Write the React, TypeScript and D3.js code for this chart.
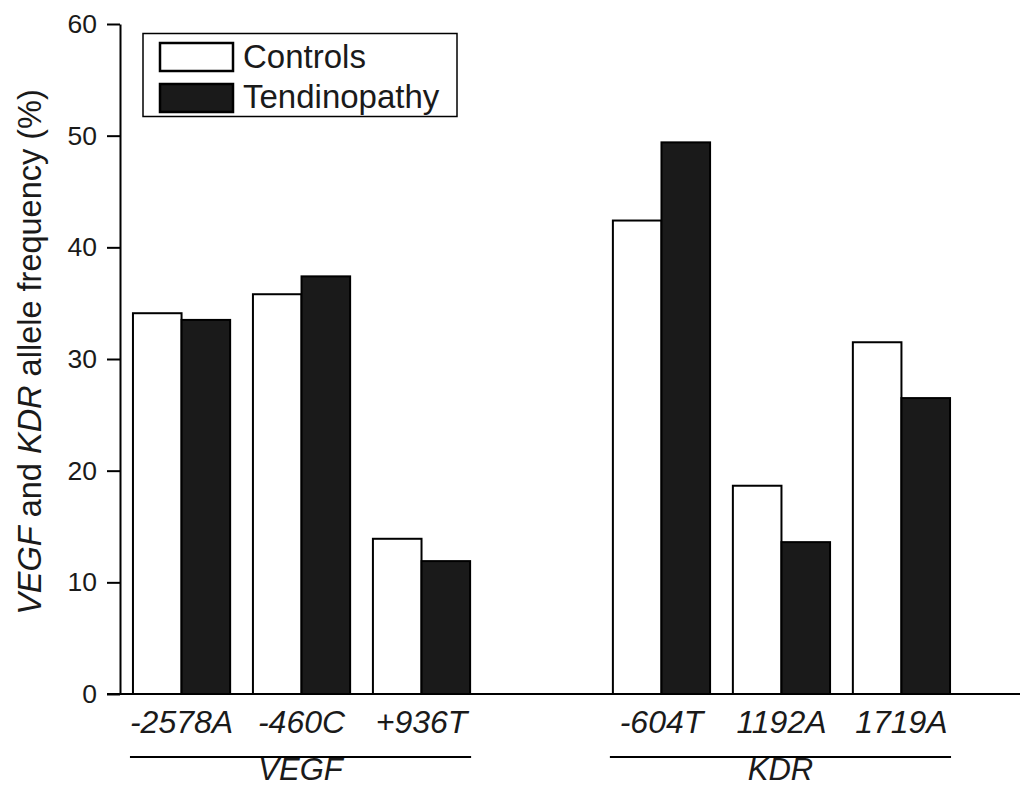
import React, { useRef, useEffect } from 'react';
import * as d3 from 'd3';

// allele labels, the gene each belongs to, and the two series (%)
const categories = ['-2578A', '-460C', '+936T', '-604T', '1192A', '1719A'];
const genes = ['VEGF', 'VEGF', 'VEGF', 'KDR', 'KDR', 'KDR'];
const controls = [34.1, 35.8, 13.9, 42.4, 18.65, 31.5];
const tendinopathy = [33.5, 37.4, 11.9, 49.4, 13.6, 26.5];
const seriesNames = ['Controls', 'Tendinopathy'];
const yTicks = [0, 10, 20, 30, 40, 50, 60];

const FONT = '"Liberation Sans", Arial, Helvetica, sans-serif';
const DARK = '#1a1a1a';

const App = () => {
  const ref = useRef<SVGSVGElement>(null);
  const width = 1029;
  const height = 788;

  useEffect(() => {
    const svg = d3.select(ref.current);
    svg.selectAll('*').remove();

    // slots with an empty one between the two genes
    const slots: string[] = [];
    categories.forEach((c, i) => {
      if (i > 0 && genes[i] !== genes[i - 1]) slots.push('__gap' + i);
      slots.push(c);
    });

    const x = d3.scaleBand().domain(slots).range([120, 963]).paddingInner(0.19).paddingOuter(0.108);
    const xs = d3.scaleBand().domain(seriesNames).range([0, x.bandwidth()]).padding(0);
    const y = d3.scaleLinear().domain([0, 60]).range([694, 24]);

    // bars
    const rows = categories.map((c, i) => ({ c, vals: [controls[i], tendinopathy[i]] }));
    rows.forEach((r) => {
      r.vals.forEach((v, k) => {
        svg.append('rect')
          .attr('x', (x(r.c) as number) + (xs(seriesNames[k]) as number))
          .attr('y', y(v))
          .attr('width', xs.bandwidth())
          .attr('height', y(0) - y(v))
          .attr('fill', k === 0 ? '#fff' : DARK)
          .attr('stroke', '#000')
          .attr('stroke-width', 2);
      });
    });

    // y axis
    const yAxis = svg.append('g')
      .attr('transform', 'translate(120,0)')
      .call(d3.axisLeft(y).tickValues(yTicks).tickSize(13).tickSizeOuter(0).tickPadding(10));
    yAxis.selectAll('path, line').attr('stroke', '#000').attr('stroke-width', 2);
    yAxis.selectAll('text')
      .attr('font-family', FONT)
      .attr('font-size', 26.5)
      .attr('fill', '#1a1a1a');

    // x axis baseline
    svg.append('line')
      .attr('x1', 107).attr('x2', 1020)
      .attr('y1', y(0)).attr('y2', y(0))
      .attr('stroke', '#000').attr('stroke-width', 2);

    // category labels
    categories.forEach((c) => {
      svg.append('text')
        .attr('x', (x(c) as number) + x.bandwidth() / 2)
        .attr('y', 733)
        .attr('text-anchor', 'middle')
        .attr('font-family', FONT)
        .attr('font-size', 32)
        .attr('font-style', 'italic')
        .attr('fill', '#1a1a1a')
        .text(c);
    });

    // gene brackets
    const geneList = Array.from(new Set(genes));
    geneList.forEach((g) => {
      const cs = categories.filter((_, i) => genes[i] === g);
      const x0 = (x(cs[0]) as number) - 3;
      const x1 = (x(cs[cs.length - 1]) as number) + x.bandwidth() + 1;
      svg.append('line')
        .attr('x1', x0).attr('x2', x1)
        .attr('y1', 757).attr('y2', 757)
        .attr('stroke', '#000').attr('stroke-width', 2);
      svg.append('text')
        .attr('x', (x0 + x1) / 2)
        .attr('y', 780)
        .attr('text-anchor', 'middle')
        .attr('font-family', FONT)
        .attr('font-size', 31)
        .attr('font-style', 'italic')
        .attr('fill', '#1a1a1a')
        .text(g);
    });

    // y title
    const title = svg.append('text')
      .attr('transform', 'translate(41,352) rotate(-90)')
      .attr('text-anchor', 'middle')
      .attr('font-family', FONT)
      .attr('font-size', 32.5)
      .attr('fill', '#1a1a1a');
    title.append('tspan').attr('font-style', 'italic').text('VEGF');
    title.append('tspan').text(' and ');
    title.append('tspan').attr('font-style', 'italic').text('KDR');
    title.append('tspan').text(' allele frequency (%)');

    // legend
    const lg = svg.append('g');
    lg.append('rect')
      .attr('x', 143).attr('y', 33.5).attr('width', 314).attr('height', 83)
      .attr('fill', '#fff').attr('stroke', '#000').attr('stroke-width', 1.5);
    seriesNames.forEach((s, k) => {
      lg.append('rect')
        .attr('x', 160).attr('y', 43 + k * 41).attr('width', 73).attr('height', 28)
        .attr('fill', k === 0 ? '#fff' : DARK)
        .attr('stroke', '#000').attr('stroke-width', 2.5);
      lg.append('text')
        .attr('x', 243).attr('y', 68 + k * 40)
        .attr('font-family', FONT)
        .attr('font-size', 33)
        .attr('fill', '#1a1a1a')
        .text(s);
    });
  }, []);

  return (
    <svg
      ref={ref}
      width={width}
      height={height}
      style={{ position: 'absolute', left: 0, top: 0, background: '#fff' }}
    />
  );
};

export default App;
